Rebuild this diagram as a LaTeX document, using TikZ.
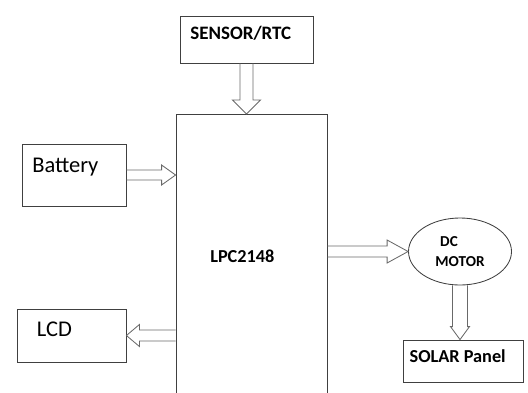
\documentclass[tikz,border=0pt]{standalone}
\usepackage{fontspec}
\setmainfont{Carlito}
\usetikzlibrary{calc,positioning,shapes.geometric}

\definecolor{boxgray}{RGB}{64,64,64}
\definecolor{arrowgray}{RGB}{105,105,105}

% hollow block arrow from #1 to #2: shaft half width, head half width, head length
\newcommand{\fatarrow}[5]{%
  \draw[fat] ($(#1)!#3!90:(#2)$)
    -- ($(#2)!#5!(#1)!#3!-90:(#1)$)
    -- ($(#2)!#5!(#1)!#4!-90:(#1)$)
    -- (#2)
    -- ($(#2)!#5!(#1)!#4!90:(#1)$)
    -- ($(#2)!#5!(#1)!#3!90:(#1)$)
    -- ($(#1)!#3!-90:(#2)$);}

\begin{document}
\begin{tikzpicture}[
  box/.style={draw=boxgray, line width=0.6pt, rectangle, inner sep=0pt},
  fat/.style={draw=arrowgray, line width=0.6pt, line join=miter},
  bftxt/.style={font=\bfseries\fontsize{13.5}{16}\selectfont, inner sep=0pt, anchor=base west},
  rmtxt/.style={font=\fontsize{16}{19}\selectfont, inner sep=0pt, anchor=base west}]
  \path[use as bounding box, clip] (0,0) rectangle (13.2,9.8);

  % blocks
  \node[box, minimum width=3.325cm, minimum height=1.175cm] (sensor) at (6.1625,8.8125) {};
  \node[box, minimum width=3.775cm, minimum height=8cm, anchor=north] (lpc) at (6.2875,6.95) {};
  \node[box, minimum width=2.6cm, minimum height=1.55cm] (battery) at (1.85,5.425) {};
  \node[box, minimum width=2.725cm, minimum height=1.325cm] (lcd) at (1.7875,1.4125) {};
  \node[box, ellipse, minimum width=2.575cm, minimum height=1.675cm, align=left,
    font=\bfseries\fontsize{10.8}{14.7}\selectfont] (motor) at (11.5,3.5125) {\hspace*{0.12cm}DC\\MOTOR};
  \node[box, minimum width=3cm, minimum height=1.05cm] (solar) at (11.575,0.775) {};

  % labels
  \node[bftxt] (sensortxt) at (4.75,8.825) {SENSOR/RTC};
  \node[bftxt, font=\bfseries\fontsize{13}{16}\selectfont] (lpctxt) at (5.25,3.2325) {LPC2148};
  \node[rmtxt] (batterytxt) at (0.8,5.5) {Battery};
  \node[rmtxt] (lcdtxt) at (0.917,1.3825) {LCD};
  \node[bftxt, font=\bfseries\fontsize{13}{16}\selectfont] (solartxt) at (10.233,0.7425) {SOLAR Panel};

  % block arrows
  \fatarrow{sensor.south}{sensor.south |- lpc.north}{0.1625cm}{0.35cm}{0.35cm}
  \fatarrow{battery.east}{battery.east -| lpc.west}{0.125cm}{0.25cm}{0.35cm}
  \fatarrow{motor.west -| lpc.east}{motor.west}{0.1375cm}{0.2875cm}{0.525cm}
  \fatarrow{motor.south}{motor.south |- solar.north}{0.1875cm}{0.2375cm}{0.325cm}
  \fatarrow{lcd.east -| lpc.west}{lcd.east}{0.1375cm}{0.275cm}{0.325cm}
\end{tikzpicture}
\end{document}
